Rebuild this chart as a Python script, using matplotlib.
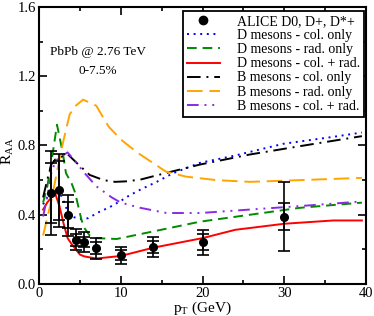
import matplotlib
matplotlib.use("Agg")
import matplotlib.pyplot as plt
from matplotlib.ticker import MultipleLocator
from matplotlib.lines import Line2D

plt.rcParams['font.family'] = ['Liberation Serif', 'DejaVu Serif']
plt.rcParams['mathtext.fontset'] = 'custom'
plt.rcParams['mathtext.rm'] = 'Liberation Serif'
plt.rcParams['mathtext.it'] = 'Liberation Serif:italic'

# ALICE data
alice_pt = [1.5, 2.5, 3.5, 4.5, 5.5, 7, 10, 14, 20, 30]
alice_raa = [0.526, 0.541, 0.396, 0.255, 0.243, 0.207, 0.166, 0.214, 0.242, 0.388]
alice_stat = [0.175, 0.17, 0.075, 0.035, 0.03, 0.035, 0.03, 0.035, 0.048, 0.078]
alice_syst = [0.245, 0.21, 0.12, 0.06, 0.06, 0.06, 0.048, 0.06, 0.072, 0.2]

# D mesons - col. only
d_col_pt = [0.5, 1, 1.5, 2, 2.5, 3, 3.5, 4, 5, 6, 7.5, 8.5, 10, 11, 12.4, 14.4, 16.4, 19.7, 23.8, 29.9, 36, 39.5]
d_col_raa = [0.46, 0.50, 0.53, 0.54, 0.53, 0.48, 0.42, 0.39, 0.375, 0.38, 0.42, 0.44, 0.48, 0.51, 0.545, 0.59, 0.64, 0.70, 0.74, 0.81, 0.85, 0.875]

# D mesons - rad. only
d_rad_pt = [0.5, 1.0, 1.5, 2.2, 2.9, 3.3, 4.0, 4.4, 5.2, 5.6, 6.2, 7, 9.5, 13.6, 19.7, 25.8, 31.9, 39.5]
d_rad_raa = [0.47, 0.56, 0.70, 0.92, 0.76, 0.64, 0.58, 0.53, 0.37, 0.32, 0.28, 0.265, 0.26, 0.30, 0.36, 0.40, 0.44, 0.47]

# D mesons - col. + rad.
d_cr_pt = [0.5, 1.0, 1.5, 2.0, 2.5, 3.0, 3.5, 4.0, 5.0, 5.5, 7, 10, 14, 20, 24, 30, 36, 39.5]
d_cr_raa = [0.43, 0.47, 0.50, 0.52, 0.45, 0.35, 0.265, 0.23, 0.17, 0.16, 0.147, 0.162, 0.21, 0.265, 0.313, 0.348, 0.367, 0.367]

# B mesons - col. only
b_col_pt = [0.5, 1, 1.5, 2, 2.5, 3.5, 4.6, 6.2, 7.9, 9.3, 10.7, 12.4, 15.6, 19.7, 25.8, 31.9, 39.5]
b_col_raa = [0.50, 0.60, 0.69, 0.72, 0.73, 0.75, 0.70, 0.63, 0.60, 0.59, 0.593, 0.603, 0.642, 0.69, 0.748, 0.796, 0.854]

# B mesons - rad. only
b_rad_pt = [0.5, 1, 1.5, 2, 2.5, 3, 3.75, 4.5, 5.4, 7, 8.5, 10, 12, 15.5, 18, 21.7, 25.8, 31.9, 39.5]
b_rad_raa = [0.28, 0.38, 0.48, 0.60, 0.72, 0.83, 0.98, 1.03, 1.065, 1.03, 0.91, 0.835, 0.76, 0.65, 0.62, 0.60, 0.59, 0.60, 0.613]

# B mesons - col. + rad.
b_cr_pt = [0.5, 1, 1.5, 2, 2.5, 3.5, 4.6, 5.4, 7, 8.9, 10, 12.4, 15.6, 19.7, 25.8, 31.9, 39.5]
b_cr_raa = [0.39, 0.50, 0.64, 0.71, 0.73, 0.76, 0.70, 0.65, 0.565, 0.50, 0.47, 0.44, 0.41, 0.41, 0.43, 0.45, 0.477]

labels = ["ALICE D0, D+, D*+", "D mesons - col. only", "D mesons - rad. only",
          "D mesons - col. + rad.", "B mesons - col. only", "B mesons - rad. only",
          "B mesons - col. + rad."]

fig = plt.figure(figsize=(3.74, 3.16), dpi=100)
ax = fig.add_axes([39/374, 32/316, 327/374, 277/316])

lw = 1.4
l_dcol, = ax.plot(d_col_pt, d_col_raa, color='#0000ff', lw=lw, ls=(0, (1, 2.4)))
l_drad, = ax.plot(d_rad_pt, d_rad_raa, color='#008b00', lw=lw, ls=(0, (5, 3)))
l_dcr, = ax.plot(d_cr_pt, d_cr_raa, color='#ff0000', lw=lw, ls='-')
l_bcol, = ax.plot(b_col_pt, b_col_raa, color='black', lw=lw, ls=(0, (7, 3, 1, 3)))
l_brad, = ax.plot(b_rad_pt, b_rad_raa, color='#ffa500', lw=lw, ls=(0, (8, 3.5)))
l_bcr, = ax.plot(b_cr_pt, b_cr_raa, color='#8a2be2', lw=lw, ls=(0, (6, 3, 1, 3, 1, 3)))

ax.errorbar(alice_pt, alice_raa, yerr=alice_syst, fmt='none', ecolor='black',
            elinewidth=1.2, capsize=4, capthick=1.2, zorder=5)
ax.errorbar(alice_pt, alice_raa, yerr=alice_stat, fmt='none', ecolor='black',
            elinewidth=1.2, capsize=4, capthick=1.2, zorder=5)
ax.plot(alice_pt, alice_raa, 'o', color='black', ms=5.5, zorder=6)

h_alice = Line2D([], [], marker='o', color='black', ls='none', ms=6)
leg = ax.legend([h_alice, l_dcol, l_drad, l_dcr, l_bcol, l_brad, l_bcr], labels,
                loc='upper right', bbox_to_anchor=(0.994, 0.986), borderaxespad=0,
                fontsize=10, frameon=True, fancybox=False, framealpha=1,
                edgecolor='black', handlelength=2.4, handletextpad=1.2,
                labelspacing=0.08, borderpad=0.3)
leg.get_frame().set_linewidth(1.3)

ax.text(0.18, 0.838, "PbPb @ 2.76 TeV", transform=ax.transAxes,
        ha='center', va='center', fontsize=9.5)
ax.text(0.18, 0.769, "0-7.5%", transform=ax.transAxes,
        ha='center', va='center', fontsize=9.5)

ax.set_xlim(0, 40)
ax.set_ylim(0, 1.6)
ax.xaxis.set_major_locator(MultipleLocator(10))
ax.xaxis.set_minor_locator(MultipleLocator(5))
ax.yaxis.set_major_locator(MultipleLocator(0.4))
ax.yaxis.set_minor_locator(MultipleLocator(0.2))
ax.yaxis.set_major_formatter(matplotlib.ticker.FormatStrFormatter('%.1f'))
ax.tick_params(which='both', direction='in', top=True, right=True, labelsize=10.5, width=1.2)
ax.tick_params(which='major', length=6, pad=2)
ax.tick_params(which='minor', length=3)
for s in ax.spines.values():
    s.set_linewidth(1.5)

ax.set_xlabel(r"p$_\mathrm{T}$ (GeV)", fontsize=11)
ax.xaxis.set_label_coords(0.5, -0.058, transform=ax.transAxes)
ax.xaxis.label.set_va('top')
ax.set_ylabel(r"R$_\mathrm{AA}$", fontsize=11)
ax.yaxis.set_label_coords(-0.094, 0.48, transform=ax.transAxes)
ax.yaxis.label.set_va('center')
ax.yaxis.label.set_ha('center')

fig.savefig("out.png", dpi=100)
